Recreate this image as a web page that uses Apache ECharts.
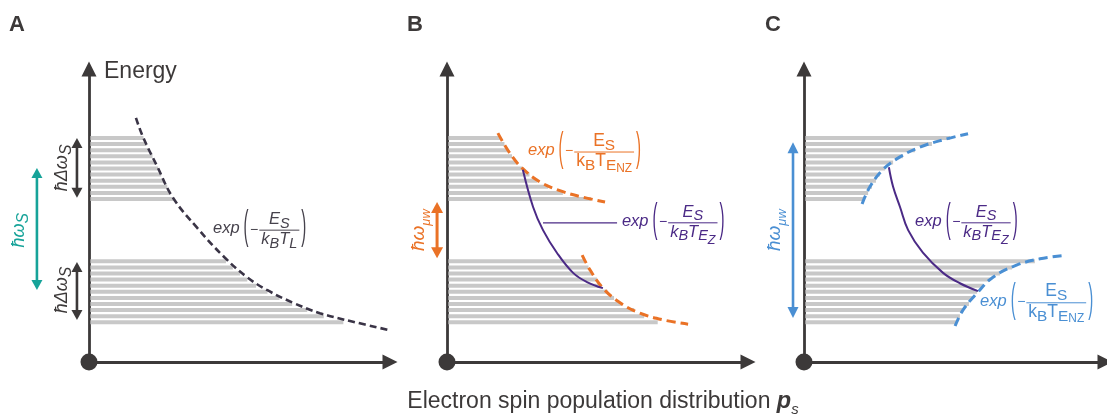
<!DOCTYPE html>
<html>
<head>
<meta charset="utf-8">
<script src="https://cdn.jsdelivr.net/npm/echarts@6/dist/echarts.min.js"></script>
<style>
html,body{margin:0;padding:0;background:#fff;}
#chart{width:1107px;height:416px;}
</style>
</head>
<body>
<div id="chart"></div>
<script>
// ---- energy ladder levels (energy units) ----
const levelsUpper = [36.7, 35.7, 34.7, 33.7, 32.7, 31.7, 30.7, 29.7, 28.7, 27.7, 26.7];
const levelsLower = [16.5, 15.5, 14.5, 13.5, 12.5, 11.5, 10.5, 9.5, 8.5, 7.5, 6.5];

// population reached by each level (x extent of the grey bars)
const popA_upper = [18.1, 19.1, 20.1, 21.1, 22.0, 23.0, 24.0, 25.0, 26.0, 27.0, 28.0];
const popA_lower = [45.5, 47.8, 50.2, 52.6, 55.5, 59.3, 63.3, 67.5, 72.5, 78.0, 84.5];
const popB_upper = [17.9, 19.1, 20.3, 21.6, 23.3, 24.9, 27.4, 30.0, 33.6, 38.5, 47.8];
const popB_lower = [45.6, 47.0, 48.3, 49.8, 51.3, 53.3, 55.5, 58.1, 62.2, 65.5, 70.0];
const popC_upper = [48.5, 42.5, 36.9, 32.9, 29.6, 26.9, 25.2, 23.9, 22.6, 21.3, 19.9];
const popC_lower = [76.7, 69.1, 65.1, 61.8, 59.5, 57.5, 56.1, 54.8, 52.8, 51.8, 50.5];

// Boltzmann-type distribution curves [population, energy]
const curveLattice = [[15.6,40.0],[17.9,36.9],[22.6,32.1],[27.9,26.9],[35.9,22.0],[44.9,17.2],[52.5,13.9],[59.1,11.8],[67.8,9.7],[76.7,8.0],[87.7,6.6],[100,5.2]];
const curveB_nzUpper = [[16.9,37.5],[20.9,34.2],[24.9,31.8],[30.9,29.5],[38.5,27.9],[45.2,27.0],[52.5,26.2]];
const curveB_nzLower = [[44.9,17.5],[47.5,15.1],[51.8,12.1],[57.5,9.7],[64.1,8.0],[71.8,6.9],[80.1,6.2]];
const curveB_zeeman = [[25.2,31.5],[28.6,25.4],[31.9,21.6],[36.5,17.9],[41.9,14.6],[46.5,13.1],[51.8,12.1]];
const curveC_nzUpper = [[19.3,25.9],[21.9,28.7],[26.2,31.5],[31.9,33.6],[38.5,35.2],[46.2,36.4],[54.5,37.4]];
const curveC_nzLower = [[50.2,5.9],[52.8,8.5],[57.5,11.3],[62.8,13.9],[70.8,15.9],[78.4,16.9],[85.7,17.4]];
const curveC_zeeman = [[28.2,31.9],[29.6,28.7],[31.9,25.4],[34.6,21.6],[39.5,17.9],[46.2,14.6],[51.8,12.9],[57.8,11.6]];
const leaderB = [[31.9,22.8],[56.5,22.8]];

// double arrows [population, energy top, energy bottom]
const arrowsA_band = [[-4.0, 36.7, 26.9], [-4.0, 16.4, 6.9]];
const arrowsA_spin = [[-17.3, 31.8, 11.8]];
const arrowsB_mw = [[-3.3, 26.2, 17.0]];
const arrowsC_mw = [[-3.65, 36.0, 7.2]];

const panelLetters = ['A', 'B', 'C'];
const xTitle = 'Electron spin population distribution ';

// ---- styling ----
const FONT = '"Liberation Sans", Arial, sans-serif';
const AX = '#3c3939';
const GRAY = '#c8c8c8';
const DARK = '#3a3446';
const DARKTXT = '#46424c';
const ORANGE = '#ea7226';
const BLUE = '#4a8fd3';
const PURPLE = '#4b2a86';
const TEAL = '#16a399';

const meas = document.createElement('canvas').getContext('2d');
function textW(t, s, italic, weight) {
  meas.font = (italic ? 'italic ' : '') + (weight || 'normal') + ' ' + s + 'px ' + FONT;
  return meas.measureText(t).width;
}
// text element placed by its alphabetic baseline
function txt(t, x, baseline, s, color, italic, extra) {
  return Object.assign({
    type: 'text', x: x, y: baseline - 0.35 * s,
    style: { text: t, fontSize: s, fontFamily: FONT, fontStyle: italic ? 'italic' : 'normal',
      fill: color, align: 'left', verticalAlign: 'middle' }
  }, extra || {});
}
// script levels: 0 normal, 1 subscript, 2 second-order subscript, 3 small subscript
const SZ = [1, 0.88, 0.76, 0.68], DY = [0, 0.22, 0.45, 0.28];
function runW(list, base, italic) {
  let w = 0;
  for (const [t, l] of list) w += textW(t, base * SZ[l], italic);
  return w;
}
function runEls(list, base, color, italic, x0, baseline, els) {
  let x = x0;
  for (const [t, l] of list) {
    const s = base * SZ[l];
    els.push(txt(t, x, baseline + DY[l] * base, s, color, italic));
    x += textW(t, s, italic);
  }
  return x - x0;
}
function paren(ch, x, color) {
  return {
    type: 'text', x: x, y: -2, scaleY: 2.7,
    style: { text: ch, fontSize: 15, fontFamily: FONT, fill: color, align: 'left', verticalAlign: 'middle' }
  };
}
// exp(-num/den) with the fraction bar at local y = 0
function fracEls(sp) {
  const els = [], c = sp.color, fe = 16.5, b = sp.base;
  let x = 0;
  els.push(txt('exp', x, 4, fe, c, true));
  x += textW('exp', fe, true) + 4;
  els.push(paren('(', x, c));
  x += textW('(', 15) + 1.5;
  els.push(txt('\u2212', x, 4.5, 14, c, false));
  x += textW('\u2212', 14) + 1;
  const nw = runW(sp.num, b, sp.italic), dw = runW(sp.den, b, sp.italic);
  const fw = Math.max(nw, dw) + 4;
  runEls(sp.num, b, c, sp.italic, x + (fw - nw) / 2, -5, els);
  els.push({ type: 'line', shape: { x1: x, y1: 0, x2: x + fw, y2: 0 }, style: { stroke: c, lineWidth: 1 } });
  runEls(sp.den, b, c, sp.italic, x + (fw - dw) / 2, 3 + 0.72 * b, els);
  x += fw + 2;
  els.push(paren(')', x, c));
  return els;
}
// vertical label reading bottom-to-top, centred at local origin
function rotEls(sp) {
  const w = runW(sp.runs, sp.size, true);
  const els = [];
  runEls(sp.runs, sp.size, sp.color, true, -w / 2, 0.35 * sp.size, els);
  return [{ type: 'group', rotation: Math.PI / 2, children: els }];
}

const specs = {
  fA: { kind: 'frac', color: DARKTXT, italic: true, base: 16.5, num: [['E',0],['S',1]], den: [['k',0],['B',1],['T',0],['L',1]] },
  fBnz: { kind: 'frac', color: ORANGE, italic: false, base: 17.5, num: [['E',0],['S',1]], den: [['k',0],['B',1],['T',0],['E',1],['NZ',3]] },
  fBz: { kind: 'frac', color: PURPLE, italic: true, base: 16.5, num: [['E',0],['S',1]], den: [['k',0],['B',1],['T',0],['E',1],['Z',2]] },
  fCz: { kind: 'frac', color: PURPLE, italic: true, base: 16.5, num: [['E',0],['S',1]], den: [['k',0],['B',1],['T',0],['E',1],['Z',2]] },
  fCnz: { kind: 'frac', color: BLUE, italic: false, base: 17.5, num: [['E',0],['S',1]], den: [['k',0],['B',1],['T',0],['E',1],['NZ',3]] },
  rBand: { kind: 'rot', color: AX, size: 18, runs: [['\u0127\u0394\u03c9',0],['S',1]] },
  rSpin: { kind: 'rot', color: TEAL, size: 18, runs: [['\u0127\u03c9',0],['S',1]] },
  rMwB: { kind: 'rot', color: ORANGE, size: 19, runs: [['\u0127\u03c9',0],['\u03bcw',3]] },
  rMwC: { kind: 'rot', color: BLUE, size: 19, runs: [['\u0127\u03c9',0],['\u03bcw',3]] }
};
// label anchors [population, energy, spec]
const labelsA = [[41.2, 21.6, 'fA'], [-9.0, 31.8, 'rBand'], [-9.0, 11.8, 'rBand'], [-23.3, 21.6, 'rSpin']];
const labelsB = [[26.9, 34.4, 'fBnz'], [58.1, 22.8, 'fBz'], [-9.3, 21.6, 'rMwB']];
const labelsC = [[36.9, 22.8, 'fCz'], [58.5, 9.7, 'fCnz'], [-9.6, 21.6, 'rMwC']];

// ---- series builders ----
function levelSeries(i, levels, pops) {
  return {
    type: 'custom', xAxisIndex: i, yAxisIndex: i, clip: false, z: 1, silent: true,
    data: levels.map((e, k) => [pops[k], e]),
    renderItem: (p, api) => {
      const a = api.coord([0, api.value(1)]), b = api.coord([api.value(0), api.value(1)]);
      // start just right of the axis stroke so the axis stays solid
      return { type: 'line', shape: { x1: a[0] + 1.4, y1: a[1], x2: b[0], y2: b[1] }, style: { stroke: GRAY, lineWidth: 4 } };
    }
  };
}
function curveSeries(i, pts, color, width, dash, smooth) {
  return {
    type: 'line', xAxisIndex: i, yAxisIndex: i, data: pts, smooth: smooth === undefined ? 0.4 : smooth,
    showSymbol: false, silent: true, z: 4,
    lineStyle: { color: color, width: width, type: dash || 'solid', cap: 'butt' }
  };
}
function arrowSeries(i, list, color, width, head, hw) {
  return {
    type: 'custom', xAxisIndex: i, yAxisIndex: i, clip: false, z: 5, silent: true,
    data: list,
    encode: { x: 0, y: [1, 2] },
    renderItem: (p, api) => {
      const t = api.coord([api.value(0), api.value(1)]), b = api.coord([api.value(0), api.value(2)]);
      const x = t[0];
      return {
        type: 'group', children: [
          { type: 'line', shape: { x1: x, y1: t[1] + head - 1, x2: x, y2: b[1] - head + 1 }, style: { stroke: color, lineWidth: width } },
          { type: 'polygon', shape: { points: [[x, t[1]], [x - hw, t[1] + head], [x + hw, t[1] + head]] }, style: { fill: color } },
          { type: 'polygon', shape: { points: [[x, b[1]], [x - hw, b[1] - head], [x + hw, b[1] - head]] }, style: { fill: color } }
        ]
      };
    }
  };
}
function labelSeries(i, list) {
  return {
    type: 'custom', xAxisIndex: i, yAxisIndex: i, clip: false, z: 6, silent: true,
    data: list.map(d => [d[0], d[1]]),
    renderItem: (p, api) => {
      const pt = api.coord([api.value(0), api.value(1)]);
      const sp = specs[list[p.dataIndex][2]];
      return { type: 'group', x: pt[0], y: pt[1], children: sp.kind === 'frac' ? fracEls(sp) : rotEls(sp) };
    }
  };
}
function originSeries(i) {
  return {
    type: 'custom', xAxisIndex: i, yAxisIndex: i, clip: false, z: 7, silent: true,
    data: [[0, 0]],
    renderItem: (p, api) => {
      const c = api.coord([0, 0]);
      return { type: 'circle', shape: { cx: c[0], cy: c[1], r: 8.5 }, style: { fill: AX } };
    }
  };
}

const gridLefts = [89, 447, 804];
const grids = gridLefts.map(l => ({ left: l, top: 69, width: 301, height: 293 }));
function axisCommon(i, max) {
  return {
    gridIndex: i, type: 'value', min: 0, max: max,
    axisLine: { show: true, onZero: false, symbol: ['none', 'triangle'], symbolSize: [15, 15], lineStyle: { color: AX, width: 2.8 } },
    axisTick: { show: false }, axisLabel: { show: false }, splitLine: { show: false }
  };
}

// bottom axis title
const titleSize = 23;
const wMain = textW(xTitle, titleSize), wP = textW('p', 23.5, true, 'bold');
const tW = wMain + wP + textW('s', 15, true);
const tX = 603 - tW / 2, tBase = 410;
const titleEls = [
  txt(xTitle, tX, tBase, titleSize, AX, false),
  txt('p', tX + wMain, tBase, 23.5, AX, true),
  txt('s', tX + wMain + wP, tBase + 5, 15, AX, true)
];
titleEls[1].style.fontWeight = 'bold';

const graphic = [
  ...panelLetters.map((L, k) => ({
    type: 'text', x: [9, 407, 765][k], y: 25,
    style: { text: L, fontSize: 22, fontWeight: 'bold', fontFamily: FONT, fill: AX, verticalAlign: 'middle' }
  })),
  { type: 'text', x: 104, y: 72, style: { text: 'Energy', fontSize: 23, fontFamily: FONT, fill: AX, verticalAlign: 'middle' } },
  { type: 'group', children: titleEls }
];

const option = {
  animation: false,
  backgroundColor: '#fff',
  grid: grids,
  xAxis: [0, 1, 2].map(i => axisCommon(i, 100)),
  yAxis: [0, 1, 2].map(i => axisCommon(i, 48)),
  graphic: graphic,
  series: [
    levelSeries(0, levelsUpper, popA_upper),
    levelSeries(0, levelsLower, popA_lower),
    levelSeries(1, levelsUpper, popB_upper),
    levelSeries(1, levelsLower, popB_lower),
    levelSeries(2, levelsUpper, popC_upper),
    levelSeries(2, levelsLower, popC_lower),
    curveSeries(0, curveLattice, DARK, 2.6, [7, 4]),
    curveSeries(1, curveB_nzUpper, ORANGE, 3, [9, 5]),
    curveSeries(1, curveB_nzLower, ORANGE, 3, [9, 5]),
    curveSeries(1, curveB_zeeman, PURPLE, 2),
    curveSeries(1, leaderB, PURPLE, 1.3, 'solid', false),
    curveSeries(2, curveC_nzUpper, BLUE, 3, [9, 5]),
    curveSeries(2, curveC_nzLower, BLUE, 3, [9, 5]),
    curveSeries(2, curveC_zeeman, PURPLE, 2),
    arrowSeries(0, arrowsA_band, AX, 2.6, 10, 5.5),
    arrowSeries(0, arrowsA_spin, TEAL, 2.6, 10, 5.5),
    arrowSeries(1, arrowsB_mw, ORANGE, 3, 11, 6),
    arrowSeries(2, arrowsC_mw, BLUE, 2.6, 11, 5.5),
    labelSeries(0, labelsA),
    labelSeries(1, labelsB),
    labelSeries(2, labelsC),
    originSeries(0), originSeries(1), originSeries(2)
  ]
};

const chart = echarts.init(document.getElementById('chart'), null, { renderer: 'canvas' });
chart.setOption(option);
</script>
</body>
</html>
